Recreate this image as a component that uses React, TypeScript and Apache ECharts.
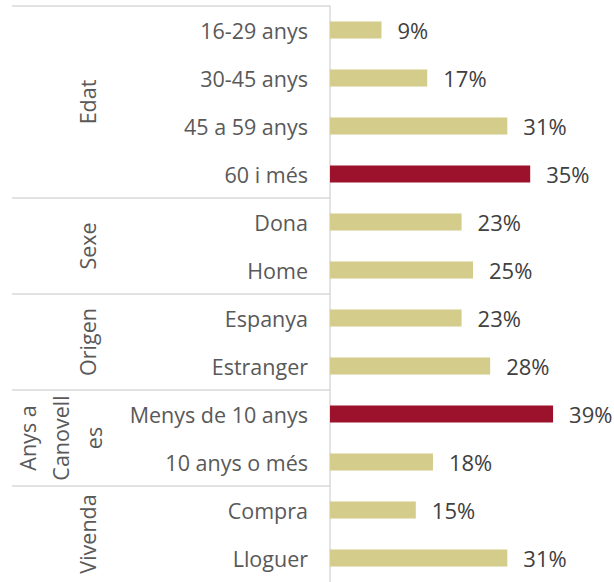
import React, { useEffect, useRef } from "react";
import * as echarts from "echarts";

const categories = [
  "16-29 anys",
  "30-45 anys",
  "45 a 59 anys",
  "60 i més",
  "Dona",
  "Home",
  "Espanya",
  "Estranger",
  "Menys de 10 anys",
  "10 anys o més",
  "Compra",
  "Lloguer",
];
const values = [9, 17, 31, 35, 23, 25, 23, 28, 39, 18, 15, 31];
const highlighted = ["60 i més", "Menys de 10 anys"];
const groupNames = ["Edat", "Sexe", "Origen", "Anys a\nCanovell\nes", "Vivenda"];
const groupSizes = [4, 2, 2, 2, 2];

const FONT = "Open Sans";
const TAN = "#d4cc8a";
const RED = "#9c112c";
const LINE = "#d9d9d9";

export default function App() {
  const ref = useRef<HTMLDivElement>(null);
  useEffect(() => {
    if (!ref.current) return;
    const chart = echarts.init(ref.current, null, { renderer: "svg" });
    chart.setOption({
      animation: false,
      grid: { left: 330, top: 6, width: 257.4, height: 578 },
      xAxis: {
        type: "value",
        min: 0,
        max: 45,
        show: false,
      },
      yAxis: {
        type: "category",
        inverse: true,
        data: categories,
        axisLine: { show: true, lineStyle: { color: LINE, width: 1.5 } },
        axisTick: { show: false },
        axisLabel: {
          color: "#595959",
          fontFamily: FONT,
          fontSize: 21.5,
          margin: 22,
        },
      },
      series: [
        {
          type: "bar",
          barWidth: 17,
          data: values.map((v, i) => ({
            value: v,
            itemStyle: { color: highlighted.includes(categories[i]) ? RED : TAN },
          })),
          label: {
            show: true,
            position: "right",
            distance: 16,
            formatter: "{c}%",
            color: "#404040",
            fontFamily: FONT,
            fontSize: 22,
          },
        },
      ],
    });

    const py = (i: number) => chart.convertToPixel({ yAxisIndex: 0 }, i) as number;
    const band = py(1) - py(0);
    const graphics: any[] = [];
    const lineX1 = 12;
    const lineX2 = 330;
    const boundary = (i: number) => py(i) - band / 2;
    graphics.push({
      type: "line",
      shape: { x1: lineX1, y1: boundary(0), x2: lineX2, y2: boundary(0) },
      style: { stroke: LINE, lineWidth: 1.5 },
    });
    let start = 0;
    groupNames.forEach((name, g) => {
      const end = start + groupSizes[g];
      const yc = (boundary(start) + boundary(end)) / 2;
      const multi = name.includes("\n");
      graphics.push({
        type: "text",
        x: multi ? 60 : 87,
        y: yc,
        rotation: Math.PI / 2,
        style: {
          text: name,
          align: "center",
          verticalAlign: "middle",
          fill: "#595959",
          fontFamily: FONT,
          fontSize: 21.5,
          lineHeight: 33,
        },
      });
      if (g < groupNames.length - 1) {
        graphics.push({
          type: "line",
          shape: { x1: lineX1, y1: boundary(end), x2: lineX2, y2: boundary(end) },
          style: { stroke: LINE, lineWidth: 1.5 },
        });
      }
      start = end;
    });
    chart.setOption({ graphic: graphics });
    return () => chart.dispose();
  }, []);
  return (
    <div
      ref={ref}
      style={{ position: "absolute", left: 0, top: 0, width: 614, height: 582 }}
    />
  );
}
